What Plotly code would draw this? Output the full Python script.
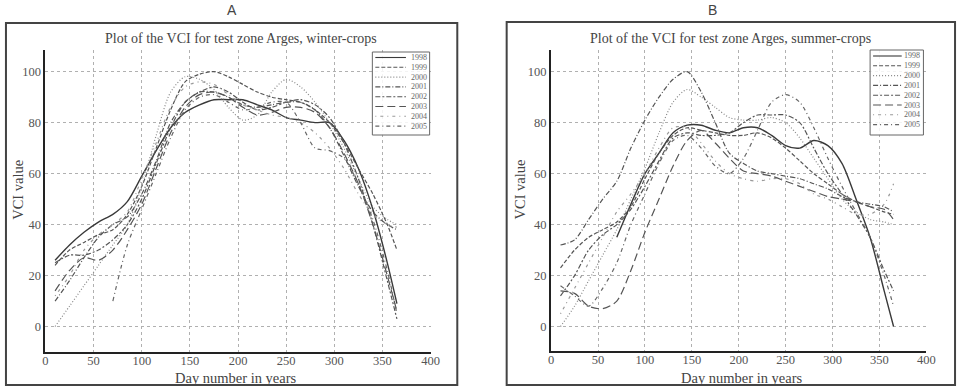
import plotly.graph_objects as go

W, H = 967, 386
def px(x): return x / W
def py(y): return 1 - y / H

# ---------------- data ----------------
days = [10, 25, 40, 55, 70, 85, 100, 115, 130, 145, 160, 175, 190, 205, 220, 235, 250, 265, 280, 295, 310, 325, 340, 355, 365]
years = ["1998", "1999", "2000", "2001", "2002", "2003", "2004", "2005"]
x_ticks = [0, 50, 100, 150, 200, 250, 300, 350, 400]
y_ticks = [0, 20, 40, 60, 80, 100]

# Panel A: winter crops
a1998 = [26, 32, 37, 41, 44, 49, 59, 69, 78, 84, 87, 89, 89, 89, 87, 85, 82, 81, 80, 80, 73, 62, 46, 25, 9]
a1999 = [24, 30, 33, 36, 38, 44, 55, 70, 85, 96, 99, 100, 98, 95, 92, 90, 89, 88, 85, 80, 72, 62, 52, 40, 30]
a2000 = [0, 8, 16, 24, 32, 40, 55, 75, 92, 98, 97, 93, 86, 81, 83, 92, 97, 94, 88, 80, 70, 58, 47, 42, 40]
a2001 = [10, 18, 27, 35, 40, 43, 52, 65, 80, 88, 92, 92, 90, 87, 86, 87, 88, 88, 85, 78, 67, 55, 45, 40, 38]
a2002 = [25, 28, 28, 30, 34, 40, 50, 64, 78, 88, 92, 94, 92, 88, 85, 86, 88, 89, 87, 82, 72, 58, 40, 18, 3]
a2003 = [14, 22, 27, 26, 30, 38, 48, 62, 76, 86, 91, 92, 90, 86, 83, 84, 86, 86, 84, 78, 68, 56, 40, 20, 6]
a2004 = [12, 20, 30, 36, 40, 45, 58, 72, 86, 94, 96, 95, 91, 87, 85, 83, 82, 80, 76, 70, 62, 52, 44, 40, 39]
a2005 = [None, None, None, None, 10, 32, 46, 60, 74, 85, 90, 91, 88, 85, 86, 88, 88, 80, 70, 69, 66, 56, 42, 22, 5]

# Panel B: summer crops
b1998 = [None, None, None, None, 35, 48, 60, 68, 76, 79, 79, 77, 76, 78, 78, 75, 71, 70, 73, 71, 64, 50, 35, 14, 0]
b1999 = [23, 30, 35, 38, 41, 47, 58, 68, 75, 78, 77, 76, 75, 75, 76, 74, 70, 65, 60, 56, 52, 49, 47, 45, 44]
b2000 = [0, 8, 18, 28, 38, 50, 62, 76, 88, 93, 90, 86, 82, 81, 81, 82, 80, 74, 66, 58, 50, 45, 42, 41, 40]
b2001 = [32, 34, 42, 50, 57, 70, 81, 90, 97, 100, 92, 80, 68, 64, 61, 60, 59, 58, 56, 54, 51, 49, 48, 47, 45]
b2002 = [12, 20, 30, 36, 40, 46, 55, 65, 74, 76, 75, 75, 76, 80, 83, 83, 83, 80, 70, 60, 52, 44, 35, 22, 14]
b2003 = [14, 13, 8, 7, 10, 22, 37, 50, 63, 73, 77, 72, 66, 61, 60, 59, 57, 55, 53, 51, 50, 49, 47, 46, 42]
b2004 = [5, 15, 25, 35, 45, 52, 60, 70, 78, 78, 72, 65, 60, 58, 57, 58, 58, 56, 52, 50, 47, 44, 44, 48, 56]
b2005 = [16, 12, 8, 15, 25, 40, 52, 64, 73, 75, 70, 63, 60, 66, 77, 88, 91, 88, 78, 66, 55, 45, 35, 20, 8]

series_a = [a1998, a1999, a2000, a2001, a2002, a2003, a2004, a2005]
series_b = [b1998, b1999, b2000, b2001, b2002, b2003, b2004, b2005]

# ---------------- styles ----------------
dashes = ["solid", "4px,2px", "1px,2px", "5px,2px,1px,2px", "5px,2px,2px,2px",
          "8px,4px", "1px,4px,3px,4px", "4px,3px,1px,3px"]
colors = ["#3a3a3a", "#555", "#888", "#555", "#555", "#555", "#999", "#666"]
widths = [1.4, 1.2, 1.2, 1.2, 1.2, 1.2, 1.2, 1.2]

SERIF = "Liberation Serif, Times New Roman, serif"
fig = go.Figure()

for ax, series in (("", series_a), ("2", series_b)):
    for yr, vals, d, c, w in zip(years, series, dashes, colors, widths):
        fig.add_trace(go.Scatter(
            x=days, y=vals, name=yr, mode="lines",
            line=dict(color=c, width=w, dash=d, shape="spline", smoothing=0.8),
            xaxis="x" + ax, yaxis="y" + ax, showlegend=False, connectgaps=False,
        ))

axis_common = dict(
    showgrid=True, gridcolor="#b0b0b0", griddash="dot", gridwidth=1,
    showline=True, linecolor="#222", linewidth=2, zeroline=False, ticks="",
    tickfont=dict(family=SERIF, size=12.5, color="#555"),
)
title_font = dict(family=SERIF, size=14.5, color="#444")

fig.update_layout(
    width=W, height=H, margin=dict(l=0, r=0, t=0, b=0),
    paper_bgcolor="white", plot_bgcolor="white",
    xaxis=dict(domain=[px(43), px(433)], range=[0, 400], tickvals=x_ticks, anchor="y",
               ticklabelstandoff=-4, **axis_common),
    yaxis=dict(domain=[py(352), py(50)], range=[-10.0, 108.5], tickvals=y_ticks, anchor="x", **axis_common),
    xaxis2=dict(domain=[px(555), px(935)], range=[0, 400], tickvals=x_ticks, anchor="y2",
                ticklabelstandoff=-4, **axis_common),
    yaxis2=dict(domain=[py(351), py(50)], range=[-9.6, 108.5], tickvals=y_ticks, anchor="x2", **axis_common),
)

shapes = []
annotations = []

# panel frames
for (x0, y0, x1, y1) in [(3, 23, 460, 385), (510, 22, 964, 385)]:
    shapes.append(dict(type="rect", xref="paper", yref="paper",
                       x0=px(x0), x1=px(x1), y0=py(y1), y1=py(y0),
                       line=dict(color="#444", width=2), layer="below"))

# panel letters, titles and axis titles
for letter, lx, title, tx, ytx, xtx in [
        ("A", 232, "Plot of the VCI for test zone Arges, winter-crops", 241, 15, 236),
        ("B", 718, "Plot of the VCI for test zone Arges, summer-crops", 737, 523, 748)]:
    annotations.append(dict(text=letter, x=px(lx), y=py(10), xref="paper", yref="paper",
                            xanchor="center", yanchor="middle", showarrow=False,
                            font=dict(family="Liberation Sans, Arial, sans-serif", size=14, color="#444")))
    annotations.append(dict(text=title, x=px(tx), y=py(38), xref="paper", yref="paper",
                            xanchor="center", yanchor="middle", showarrow=False,
                            font=dict(family=SERIF, size=14, color="#444")))
    annotations.append(dict(text="VCI value", x=px(ytx), y=py(190), xref="paper", yref="paper",
                            xanchor="center", yanchor="middle", textangle=-90, showarrow=False,
                            font=title_font))
    annotations.append(dict(text="Day number in years", x=px(xtx), y=py(377.5), xref="paper", yref="paper",
                            xanchor="center", yanchor="middle", showarrow=False, font=title_font))

# legends (drawn as boxes with sample lines)
for (bx0, by0, bx1, by1, lx0, lx1, first, step) in [(374, 52, 432, 135, 377, 408, 57.5, 9.8),
                                                    (878, 50, 932, 135, 881, 910, 56, 9.8)]:
    shapes.append(dict(type="rect", xref="paper", yref="paper",
                       x0=px(bx0), x1=px(bx1), y0=py(by1), y1=py(by0),
                       line=dict(color="#666", width=1), fillcolor="rgba(255,255,255,0.85)",
                       layer="above"))
    for i, (yr, d, c) in enumerate(zip(years, dashes, colors)):
        yy = first + step * i
        shapes.append(dict(type="line", xref="paper", yref="paper",
                           x0=px(lx0), x1=px(lx1), y0=py(yy), y1=py(yy),
                           line=dict(color=c, width=1.1, dash=d), layer="above"))
        annotations.append(dict(text=yr, x=px(bx1 - 1), y=py(yy), xref="paper", yref="paper",
                                xanchor="right", yanchor="middle", showarrow=False,
                                font=dict(family=SERIF, size=8, color="#666")))

fig.update_layout(shapes=shapes, annotations=annotations)
fig.write_html("out.html", config={"displayModeBar": False},
               post_script="document.body.style.margin='0';document.body.style.overflow='hidden';")
